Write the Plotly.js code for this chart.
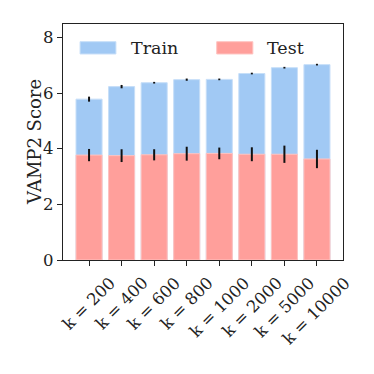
<!DOCTYPE html>
<html>
<head>
<meta charset="utf-8">
<script src="https://cdn.plot.ly/plotly-3.0.1.min.js"></script>
<style>
  body { margin: 0; background: #fff; }
  #chart { width: 374px; height: 374px; }
</style>
</head>
<body>
<div id="chart"></div>
<script>
// vamp2 scores

const categories = ['k = 200', 'k = 400', 'k = 600', 'k = 800', 'k = 1000', 'k = 2000', 'k = 5000', 'k = 10000']
const trainScore = [5.78, 6.23, 6.37, 6.48, 6.49, 6.70, 6.91, 7.02]
const trainErr = [0.09, 0.06, 0.03, 0.04, 0.03, 0.03, 0.03, 0.03]
const testScore = [3.77, 3.75, 3.78, 3.82, 3.83, 3.80, 3.80, 3.63]
const testErr = [0.22, 0.23, 0.20, 0.25, 0.21, 0.25, 0.31, 0.33]

const font = 'DejaVu Serif, serif'
const trainColor = '#a1c9f4'
const testColor = '#ff9f9b'

const chart = () => {
  const data = [
    {
      name: 'Train',
      x: categories,
      y: trainScore,
      type: 'bar',
      width: 0.8,
      marker: { color: trainColor, line: { color: '#c6def8', width: 1 } },
      error_y: { type: 'data', array: trainErr, color: '#111', thickness: 2, width: 0 },
    },
    {
      name: 'Test',
      x: categories,
      y: testScore,
      type: 'bar',
      width: 0.8,
      marker: { color: testColor, line: { color: '#ffc3c0', width: 1 } },
      error_y: { type: 'data', array: testErr, color: '#111', thickness: 2, width: 0 },
    }
  ]

  // legend drawn by hand so the patches get the wide matplotlib look
  const patch = (x0, x1, fill, edge) => ({
    type: 'rect', xref: 'paper', yref: 'paper',
    x0: x0, x1: x1, y0: 0.873, y1: 0.925,
    fillcolor: fill, line: { color: edge, width: 1 },
  })
  const label = (x, text) => ({
    xref: 'paper', yref: 'paper', x: x, y: 0.899,
    xanchor: 'left', yanchor: 'middle', showarrow: false,
    text: text, font: { family: font, size: 17.5, color: '#222' },
  })

  // rotated tick labels centred under each tick (matplotlib style)
  const tickLabels = categories.map(c => ({
    xref: 'x', yref: 'paper', x: c, y: -0.045,
    xanchor: 'center', yanchor: 'top', showarrow: false,
    textangle: -45,
    text: c, font: { family: font, size: 16.5, color: '#222' },
  }))

  const yTitle = {
    xref: 'paper', yref: 'paper', x: -0.104, y: 0.5,
    xanchor: 'center', yanchor: 'middle', showarrow: false,
    textangle: -90,
    text: 'VAMP2 Score', font: { family: font, size: 18, color: '#222' },
  }

  const layout = {
    width: 374,
    height: 374,
    margin: { l: 63, r: 31, t: 24, b: 114 },
    barmode: 'overlay',
    paper_bgcolor: '#fff',
    plot_bgcolor: '#fff',
    font: { family: font, size: 15, color: '#222' },
    showlegend: false,
    shapes: [
      patch(0.061, 0.189, trainColor, '#c6def8'),
      patch(0.549, 0.678, testColor, '#ffc3c0'),
    ],
    annotations: [
      label(0.236, 'Train'),
      label(0.722, 'Test'),
      yTitle,
    ].concat(tickLabels),
    xaxis: {
      range: [-0.8, 7.8],
      showticklabels: false,
      ticks: 'outside', ticklen: 5, tickcolor: '#222',
      showline: true, linecolor: '#222', linewidth: 1.2, mirror: true,
      showgrid: false,
    },
    yaxis: {
      range: [0, 8.48],
      tickvals: [0, 2, 4, 6, 8],
      ticks: 'outside', ticklen: 5, tickcolor: '#222',
      showline: true, linecolor: '#222', linewidth: 1.2, mirror: true,
      showgrid: false, zeroline: false,
      tickfont: { family: font, size: 16.5, color: '#222' },
    },
  }

  Plotly.newPlot('chart', data, layout, { displayModeBar: false, staticPlot: true })
}

chart()
</script>
</body>
</html>
